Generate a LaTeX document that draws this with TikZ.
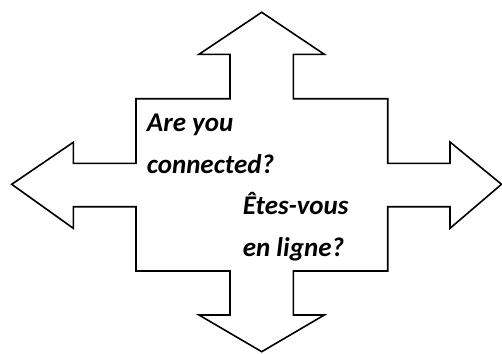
\documentclass[tikz,border=0pt]{standalone}
\usepackage{fontspec}
\setmainfont{Carlito}
\begin{document}
\begin{tikzpicture}[x=1pt,y=-1pt,
  outline/.style={draw=black,line width=1.6pt,line join=miter,fill=white},
  lbl/.style={anchor=base west,inner sep=0pt,font=\fontsize{27}{31}\selectfont\bfseries\itshape}]
\useasboundingbox (0,0) rectangle (502,353);
\draw[outline] (261.7,12.3) coordinate (ttip) -- (324.3,54.3) -- (293.3,54.3) -- (293.3,98.7)
  -- (387.7,98.7) -- (387.7,163.3) -- (450,163.3) -- (450,142) -- (501.5,184.3) coordinate (rtip)
  -- (450,228.3) -- (450,206.7) -- (387.7,206.7) -- (387.7,271) -- (293.3,271) -- (293.3,315)
  -- (324.3,315) -- (261.7,351.7) coordinate (btip) -- (199,315) -- (230,315) -- (230,271)
  -- (136,271) -- (136,206.7) -- (73.3,206.7) -- (73.3,228.3) -- (11.7,184.3) coordinate (ltip)
  -- (73.3,142.3) -- (73.3,163.3) -- (136,163.3) -- (136,98.7) -- (230,98.7) -- (230,54.3)
  -- (199,54.3) -- cycle;
\node[lbl] (l1) at (146.7,131.7) {Are you};
\node[lbl] (l2) at (146.7,173.3) {connected?};
\node[lbl] (l3) at (242.7,214) {Êtes-vous};
\node[lbl] (l4) at (242.7,256.7) {en ligne?};
\end{tikzpicture}
\end{document}
